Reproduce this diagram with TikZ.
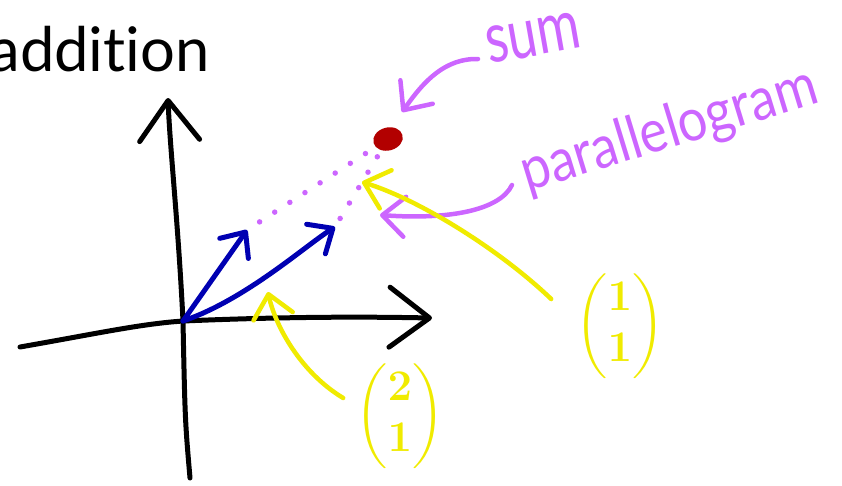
\documentclass[tikz,border=0pt]{standalone}
\usepackage{amsmath}
\usepackage{fontspec}
\setmainfont{Lato}[Ligatures=NoCommon]
\usetikzlibrary{arrows.meta,shapes.geometric}
\definecolor{penblue}{RGB}{0,0,178}
\definecolor{penpurple}{RGB}{204,102,255}
\definecolor{penyellow}{RGB}{240,235,0}
\definecolor{dotred}{RGB}{178,0,0}

\begin{document}
\begin{tikzpicture}[x=0.02cm,y=-0.02cm,
  ink/.style={line width=1mm,line cap=round,line join=round},
  axisarrow/.style={ink,black,-{Straight Barb[length=8mm,width=12mm,round]}},
  vecarrow/.style={ink,penblue,-{Straight Barb[length=4mm,width=7mm,round]}},
  notearrow/.style={ink,line width=0.9mm,-{Straight Barb[length=4.5mm,width=8mm,round]}},
  dotline/.style={penpurple,line width=1.1mm,line cap=round,dash pattern=on 0pt off 3.6mm},
  hand/.style={penpurple,inner sep=0pt},
  colvec/.style={penyellow,inner sep=0pt,font=\fontsize{24}{29}\selectfont\boldmath}]
\useasboundingbox (0,0) rectangle (842,485);

\node[font=\fontsize{35}{40}\selectfont,anchor=base east,inner sep=0pt] (title) at (210,71) {addition};

% axes
\coordinate (o) at (183,321);
\coordinate (xstart) at (20,347);
\coordinate (xend) at (432,318);
\coordinate (ybot) at (190,478);
\coordinate (ytop) at (168,98);
\draw[axisarrow] (xstart) .. controls (100,333) and (140,324) .. (o) .. controls (300,316) and (380,317) .. (xend);
\draw[axisarrow] (ybot) .. controls (185,420) .. (o) .. controls (178,220) and (170,150) .. (ytop);

% the two vectors and their sum
\coordinate (a) at (247,230);
\coordinate (b) at (335,227);
\node[ellipse,fill=dotred,minimum width=6mm,minimum height=4.6mm,inner sep=0pt,rotate=15] (sumpt) at (388,139) {};
\draw[vecarrow] (o) -- (a);
\draw[vecarrow] (o) .. controls (245,300) and (305,246) .. (b);
\draw[dotline,shorten <=3mm] (a) -- (sumpt);
\draw[dotline,shorten <=2mm] (b) -- (sumpt);

% notes
\node[hand,font=\fontsize{40}{44}\selectfont,rotate=10,xscale=0.75,anchor=base west] (sumlbl) at (489,64) {sum};
\node[hand,font=\fontsize{34}{40}\selectfont,rotate=17,xscale=0.87,anchor=base west] (paralbl) at (527,192) {parallelogram};
\node[colvec] (vecone) at (620,326) {$\begin{pmatrix}1\\1\end{pmatrix}$};
\node[colvec] (vectwo) at (400,416) {$\begin{pmatrix}2\\1\end{pmatrix}$};

\coordinate (sumtip) at (402,112);
\coordinate (paratip) at (380,215);
\coordinate (onetip) at (362,182);
\coordinate (twotip) at (268,292);
\draw[notearrow,penpurple] ([shift={(-11,-5)}]sumlbl.base west) .. controls (440,58) and (418,90) .. (sumtip);
\draw[notearrow,penpurple] ([shift={(-15,-7)}]paralbl.base west) .. controls (500,210) and (450,220) .. (paratip);
\draw[notearrow,penyellow] ([shift={(-24,-27)}]vecone.west) .. controls (500,250) and (420,200) .. (onetip);
\draw[notearrow,penyellow] ([shift={(-12,-18)}]vectwo.west) .. controls (300,372) and (275,325) .. (twotip);
\end{tikzpicture}
\end{document}
